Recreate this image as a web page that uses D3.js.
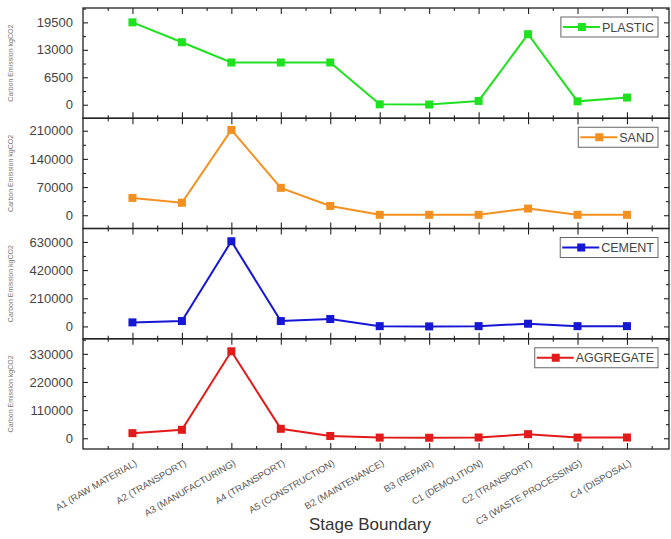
<!DOCTYPE html>
<html>
<head>
<meta charset="utf-8">
<script src="https://cdn.jsdelivr.net/npm/d3@7"></script>
<style>
  body { margin: 0; background: #fff; }
  svg { display: block; font-family: Arial, "Liberation Sans", sans-serif; }
</style>
</head>
<body>
<svg id="chart" width="671" height="539"></svg>
<script>
const categories = ["A1 (RAW MATERIAL)", "A2 (TRANSPORT)", "A3 (MANUFACTURING)", "A4 (TRANSPORT)",
  "A5 (CONSTRUCTION)", "B2 (MAINTENANCE)", "B3 (REPAIR)", "C1 (DEMOLITION)", "C2 (TRANSPORT)",
  "C3 (WASTE PROCESSING)", "C4 (DISPOSAL)"];

const plasticValues = [19500, 14800, 10000, 10000, 10000, 100, 50, 900, 16700, 800, 1700];
const sandValues = [43000, 31000, 212000, 68000, 23000, 1000, 1000, 1000, 16500, 1000, 1000];
const cementValues = [30000, 40000, 635000, 40000, 55000, 2000, 0, 2000, 20000, 2000, 2000];
const aggregateValues = [20000, 33000, 340000, 37000, 9000, 2600, 2000, 3000, 16000, 2600, 3000];

const plasticTicks = [0, 6500, 13000, 19500];
const sandTicks = [0, 70000, 140000, 210000];
const cementTicks = [0, 210000, 420000, 630000];
const aggregateTicks = [0, 110000, 220000, 330000];

const seriesNames = ["PLASTIC", "SAND", "CEMENT", "AGGREGATE"];
const yTitle = "Carbon Emission kgCO2";
const xTitle = "Stage Boundary";

// panel setup: series, ticks, domain, colour
const panels = [
  { name: seriesNames[0], values: plasticValues, ticks: plasticTicks, domain: [-3200, 22900], color: "#1fe21f" },
  { name: seriesNames[1], values: sandValues, ticks: sandTicks, domain: [-33000, 241000], color: "#f4901f" },
  { name: seriesNames[2], values: cementValues, ticks: cementTicks, domain: [-92000, 730000], color: "#1616d6" },
  { name: seriesNames[3], values: aggregateValues, ticks: aggregateTicks, domain: [-42000, 389000], color: "#e21a1a" }
];

const svg = d3.select("#chart");
const plotL = 83, plotR = 669, plotT = 8, plotB = 449;
const panelH = (plotB - plotT) / panels.length;
const axisColor = "#222";

const x = d3.scaleLinear().domain([-1, 10.85]).range([plotL, plotR]);
const majorX = d3.range(categories.length);
const minorX = d3.range(-0.5, categories.length, 1);

panels.forEach((p, k) => {
  const y0 = plotT + k * panelH, y1 = y0 + panelH;
  const y = d3.scaleLinear().domain(p.domain).range([y1, y0]);
  const g = svg.append("g");

  // y minor ticks every half step
  const step = p.ticks[1] - p.ticks[0];
  const minorY = d3.range(p.ticks[0] - step / 2, p.domain[1], step / 2).filter(v => v > p.domain[0] && !p.ticks.includes(v));

  // left axis with labels
  g.append("g").attr("transform", `translate(${plotL},0)`)
    .call(d3.axisLeft(y).tickValues(p.ticks).tickSize(-5).tickPadding(10).tickFormat(d3.format("d")))
    .call(a => a.select(".domain").remove());
  g.append("g").attr("transform", `translate(${plotL},0)`)
    .call(d3.axisLeft(y).tickValues(minorY).tickSize(-3).tickFormat(""))
    .call(a => a.select(".domain").remove());
  // right axis
  g.append("g").attr("transform", `translate(${plotR},0)`)
    .call(d3.axisRight(y).tickValues(p.ticks).tickSize(-5).tickFormat(""))
    .call(a => a.select(".domain").remove());
  g.append("g").attr("transform", `translate(${plotR},0)`)
    .call(d3.axisRight(y).tickValues(minorY).tickSize(-3).tickFormat(""))
    .call(a => a.select(".domain").remove());
  // bottom and top ticks
  g.append("g").attr("transform", `translate(0,${y1})`)
    .call(d3.axisBottom(x).tickValues(majorX).tickSize(-6).tickFormat(""))
    .call(a => a.select(".domain").remove());
  g.append("g").attr("transform", `translate(0,${y1})`)
    .call(d3.axisBottom(x).tickValues(minorX).tickSize(-3).tickFormat(""))
    .call(a => a.select(".domain").remove());
  g.append("g").attr("transform", `translate(0,${y0})`)
    .call(d3.axisTop(x).tickValues(majorX).tickSize(-6).tickFormat(""))
    .call(a => a.select(".domain").remove());
  g.append("g").attr("transform", `translate(0,${y0})`)
    .call(d3.axisTop(x).tickValues(minorX).tickSize(-3).tickFormat(""))
    .call(a => a.select(".domain").remove());

  g.selectAll(".tick line").attr("stroke", axisColor).attr("stroke-width", 1.1);
  g.selectAll(".tick text").attr("fill", "#444").attr("font-size", "13px");

  // frame
  g.append("rect").attr("x", plotL).attr("y", y0).attr("width", plotR - plotL).attr("height", panelH)
    .attr("fill", "none").attr("stroke", axisColor).attr("stroke-width", 1.3);

  // y title
  g.append("text")
    .attr("transform", `translate(13,${(y0 + y1) / 2}) rotate(-90)`)
    .attr("text-anchor", "middle").attr("font-size", "7px").attr("fill", "#777")
    .text(yTitle);

  // line and markers
  const line = d3.line().x((d, i) => x(i)).y(d => y(d));
  g.append("path").datum(p.values)
    .attr("fill", "none").attr("stroke", p.color).attr("stroke-width", 2).attr("d", line);
  g.selectAll(".pt").data(p.values).join("rect")
    .attr("x", (d, i) => x(i) - 4).attr("y", d => y(d) - 4)
    .attr("width", 8).attr("height", 8).attr("fill", p.color);

  // legend
  const lg = g.append("g");
  const label = lg.append("text").attr("font-size", "12.5px").attr("fill", "#444").text(p.name);
  const tw = label.node().getComputedTextLength();
  const boxH = 20, boxR = 658, lineLen = 36;
  const boxW = 3 + lineLen + 2 + tw + 4;
  const bx = boxR - boxW, by = y0 + 9;
  lg.insert("rect", "text").attr("x", bx).attr("y", by).attr("width", boxW).attr("height", boxH)
    .attr("fill", "#fff").attr("stroke", "#666").attr("stroke-width", 1);
  lg.append("line").attr("x1", bx + 2).attr("x2", bx + 3 + lineLen)
    .attr("y1", by + boxH / 2).attr("y2", by + boxH / 2)
    .attr("stroke", p.color).attr("stroke-width", 2);
  lg.append("rect").attr("x", bx + 3 + lineLen / 2 - 4).attr("y", by + boxH / 2 - 4)
    .attr("width", 8).attr("height", 8).attr("fill", p.color);
  label.attr("x", bx + 3 + lineLen + 2).attr("y", by + boxH / 2 + 4.5);
});

// category labels
svg.append("g").selectAll("text").data(categories).join("text")
  .attr("transform", (d, i) => `translate(${x(i) + 5},${plotB + 16}) rotate(-30)`)
  .attr("text-anchor", "end").attr("font-size", "9.5px").attr("fill", "#555")
  .text(d => d);

svg.append("text").attr("x", 370).attr("y", 530).attr("text-anchor", "middle")
  .attr("font-size", "17px").attr("fill", "#333").text(xTitle);
</script>
</body>
</html>
